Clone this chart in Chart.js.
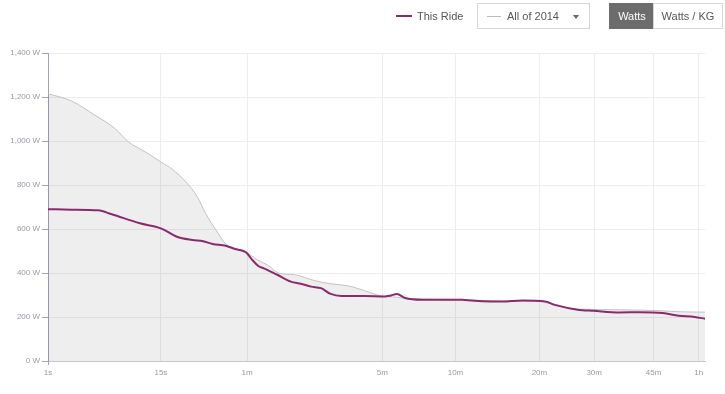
<!DOCTYPE html>
<html lang="en">
<head>
  <meta charset="UTF-8">
  <title>Power Curve</title>
  <script src="https://cdn.jsdelivr.net/npm/chart.js"></script>
  <style>
    body { margin: 0; padding: 0; background: #fff; font-family: "Liberation Sans", Arial, sans-serif; }
    #wrap { position: relative; width: 725px; height: 394px; }
    #grafico { position: absolute; left: 0; top: 0; }
    .leg-ride { position: absolute; left: 396px; top: 9px; font-size: 11px; color: #555; line-height: 14px; }
    .leg-ride i { display: inline-block; width: 16px; height: 2px; background: #8a2a6d; vertical-align: middle; margin-right: 5px; margin-top: -2px; }
    .drop {
      position: absolute; left: 477px; top: 3px; width: 111px; height: 24px;
      border: 1px solid #d6d6d6; background: #fff; font-size: 11px; color: #555;
      box-sizing: content-box;
    }
    .drop i { position: absolute; left: 9px; top: 12px; width: 14px; height: 1px; background: #c6b3c0; }
    .drop span { position: absolute; left: 29px; top: 6px; }
    .drop b { position: absolute; left: 95px; top: 11px; border-left: 3px solid transparent; border-right: 3px solid transparent; border-top: 4px solid #666; }
    .btn { position: absolute; top: 3px; height: 24px; line-height: 24px; font-size: 11px; text-align: center; box-sizing: content-box; }
    .btn.on { left: 609px; width: 44px; background: #6c6c6c; color: #fff; border: 1px solid #6c6c6c; }
    .btn.off { left: 653px; width: 68px; background: #fff; color: #555; border: 1px solid #d6d6d6; }
  </style>
</head>
<body>
  <div id="wrap">
    <canvas id="grafico" width="725" height="394"></canvas>
    <div class="leg-ride"><i></i>This Ride</div>
    <div class="drop"><i></i><span>All of 2014</span><b></b></div>
    <div class="btn on">Watts</div>
    <div class="btn off">Watts / KG</div>
  </div>

  <script>
    // duracao (s) e potencia (W)
    const rideSecs  = [1, 2, 4, 5.5, 10, 15, 20, 26, 31, 36, 44, 50, 59, 64, 70, 76, 90, 107, 121, 137, 154, 172, 194, 249, 307, 327, 347, 376, 440, 636, 692, 891, 1049, 1252, 1348, 1598, 1793, 2149, 2465, 2863, 3174, 3507, 3741];
    const rideWatts = [690, 688, 685, 667, 626, 603, 565, 550, 544, 532, 524, 510, 494, 462, 432, 420, 392, 361, 351, 338, 331, 305, 296, 296, 293, 298, 304, 286, 278, 278, 275, 270, 275, 270, 255, 233, 228, 221, 222, 218, 206, 200, 192];

    const yearSecs  = [1, 2, 3.7, 5.9, 7.9, 11.1, 14.9, 18.5, 23.3, 28.2, 32.3, 37.9, 44.2, 59, 69, 79, 92, 112, 142, 172, 208, 249, 296, 347, 400, 636, 891, 1252, 1348, 1598, 2149, 2863, 3174, 3741];
    const yearWatts = [1215, 1182, 1117, 1057, 996, 951, 906, 871, 815, 747, 671, 596, 531, 496, 460, 437, 399, 392, 366, 351, 342, 320, 296, 290, 283, 279, 272, 271, 258, 236, 233, 228, 224, 222];

    const tickSecs   = [1, 15, 60, 300, 600, 1200, 1800, 2700, 3600];
    const tickLabels = ['1s', '15s', '1m', '5m', '10m', '20m', '30m', '45m', '1h'];
    const yTicks     = [0, 200, 400, 600, 800, 1000, 1200, 1400];

    // eixo x em escala de potencia (t^0.2)
    const pw = t => Math.pow(t, 0.2);
    const pontos = (secs, vals) => secs.map((s, i) => ({ x: pw(s), y: vals[i] }));

    const corEixo = '#a79fb3';
    const corTexto = '#9d96a3';
    const corGrade = '#ededed';

    const ctx = document.getElementById('grafico').getContext('2d');
    new Chart(ctx, {
      type: 'line',
      data: {
        datasets: [{
          label: 'This Ride',
          data: pontos(rideSecs, rideWatts),
          borderColor: '#8a2a6d',
          borderWidth: 2,
          pointRadius: 0,
          fill: false,
          cubicInterpolationMode: 'monotone'
        }, {
          label: 'All of 2014',
          data: pontos(yearSecs, yearWatts),
          borderColor: '#c8bec4',
          backgroundColor: 'rgba(0, 0, 0, 0.065)',
          borderWidth: 1,
          pointRadius: 0,
          fill: 'origin',
          cubicInterpolationMode: 'monotone'
        }]
      },
      options: {
        responsive: false,
        animation: false,
        layout: { padding: { top: 53, right: 20, bottom: 0, left: 0 } },
        plugins: { legend: { display: false }, tooltip: { enabled: false } },
        scales: {
          x: {
            type: 'linear',
            min: pw(1),
            max: pw(rideSecs[rideSecs.length - 1]),
            afterBuildTicks: axis => { axis.ticks = tickSecs.map(s => ({ value: pw(s) })); },
            afterFit: axis => { axis.height = 33; },
            border: { color: '#c9c3cd', width: 1 },
            grid: {
              color: corGrade,
              tickLength: 4,
              tickColor: c => (c.index === 0 ? corEixo : 'rgba(0,0,0,0)')
            },
            ticks: {
              autoSkip: false,
              maxRotation: 0,
              padding: 3,
              color: corTexto,
              font: { family: 'Liberation Sans', size: 8 },
              callback: (v, i) => tickLabels[i]
            }
          },
          y: {
            min: 0,
            max: 1400,
            afterBuildTicks: axis => { axis.ticks = yTicks.map(v => ({ value: v })); },
            afterFit: axis => { axis.width = 48; },
            border: { color: corEixo, width: 1 },
            grid: { color: corGrade, tickColor: corEixo, tickLength: 6 },
            ticks: {
              padding: 2,
              color: corTexto,
              font: { family: 'Liberation Sans', size: 8 },
              callback: v => v.toLocaleString('en-US') + ' W'
            }
          }
        }
      }
    });
  </script>
</body>
</html>
